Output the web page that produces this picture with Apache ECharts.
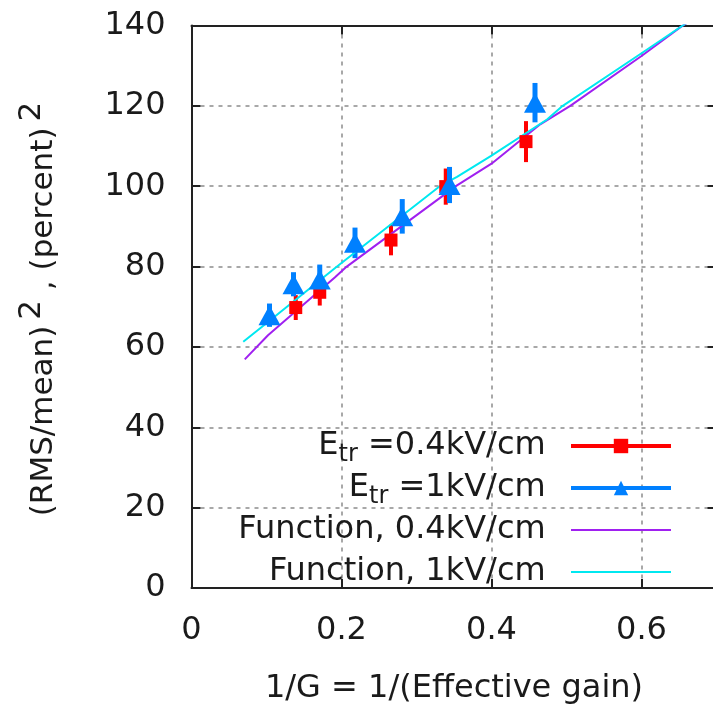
<!DOCTYPE html>
<html>
<head>
<meta charset="utf-8">
<script src="https://cdn.jsdelivr.net/npm/echarts@6/dist/echarts.min.js"></script>
<style>
  html, body { margin: 0; padding: 0; background: #ffffff; overflow: hidden; }
  /* the plot frame's right edge sits just beyond the visible window */
  #chart { width: 720px; height: 710px; }
</style>
</head>
<body>
<div id="chart"></div>
<script>
// Measured points, E_tr = 0.4 kV/cm
const redX   = [0.139, 0.171, 0.266, 0.339, 0.446];
const redY   = [69.8, 73.6, 86.6, 99.9, 111.1];
const redErr = [3.1, 3.3, 3.8, 4.5, 5.1];

// Measured points, E_tr = 1 kV/cm
const blueX   = [0.104, 0.136, 0.171, 0.218, 0.281, 0.344, 0.458];
const blueY   = [67.9, 75.6, 76.8, 85.9, 92.5, 100.3, 120.8];
const blueErr = [2.9, 3.0, 3.7, 3.8, 4.3, 4.5, 4.9];

// Fitted function, 0.4 kV/cm
const fn04X = [0.071, 0.102, 0.191, 0.207, 0.354, 0.400, 0.465, 0.505, 0.600, 0.652, 0.700];
const fn04Y = [56.9, 62.9, 77.3, 80.0, 100.2, 105.6, 115.4, 120.0, 132.4, 139.6, 145.3];

// Fitted function, 1 kV/cm
const fn1X = [0.069, 0.102, 0.194, 0.331, 0.354, 0.400, 0.474, 0.495, 0.600, 0.655, 0.700];
const fn1Y = [61.3, 66.2, 80.0, 100.0, 102.3, 107.6, 116.6, 120.0, 133.1, 140.0, 145.5];

// Axes
const xMin = 0, xMax = 0.7, xStep = 0.2;
const yMin = 0, yMax = 140, yStep = 20;

const seriesNames = ['E_tr =0.4kV/cm', 'E_tr =1kV/cm', 'Function, 0.4kV/cm', 'Function, 1kV/cm'];
const xTitle = '1/G = 1/(Effective gain)';

const FONT = 'DejaVu Sans';
const FS = 32;
const TXT = '#1a1a1a';
const RED = '#ff0000';
const BLUE = '#0080ff';
const PURPLE = '#a020f0';
const CYAN = '#00e8f0';

const zip = (xs, ys) => xs.map((x, i) => [x, ys[i]]);
const errRows = (xs, ys, es) => xs.map((x, i) => [x, ys[i] - es[i], ys[i] + es[i]]);

function errorBars(color, halfWidth) {
  return function (params, api) {
    const x = api.value(0);
    const lo = api.coord([x, api.value(1)]);
    const hi = api.coord([x, api.value(2)]);
    return {
      type: 'rect',
      shape: { x: lo[0] - halfWidth, y: hi[1], width: halfWidth * 2, height: lo[1] - hi[1] },
      style: { fill: color }
    };
  };
}

const axisLine = { show: true, onZero: false, lineStyle: { color: '#222', width: 2 } };
const axisTick = { show: true, inside: true, length: 9, lineStyle: { color: '#222', width: 2 } };
const gridLine = { show: true, lineStyle: { color: '#a8a8a8', width: 2, type: [4, 5] } };

const chart = echarts.init(document.getElementById('chart'), null, { renderer: 'canvas' });

chart.setOption({
  animation: false,
  backgroundColor: '#ffffff',
  textStyle: { fontFamily: FONT },
  grid: { left: 191.5, right: 3.5, top: 25.5, bottom: 116, containLabel: false },
  xAxis: [
    {
      type: 'value', position: 'bottom', min: xMin, max: xMax, interval: xStep,
      axisLine, axisTick, splitLine: gridLine,
      axisLabel: { show: true, margin: 27, fontSize: FS, color: TXT, fontFamily: FONT, showMaxLabel: false },
      name: xTitle, nameLocation: 'middle', nameGap: 85,
      nameTextStyle: { fontSize: FS, color: TXT, fontFamily: FONT }
    },
    {
      type: 'value', position: 'top', min: xMin, max: xMax, interval: xStep,
      axisLine, axisTick, splitLine: { show: false }, axisLabel: { show: false }
    }
  ],
  yAxis: [
    {
      type: 'value', position: 'left', min: yMin, max: yMax, interval: yStep,
      axisLine, axisTick, splitLine: gridLine,
      axisLabel: { show: true, margin: 26, fontSize: FS, color: TXT, fontFamily: FONT }
    },
    {
      type: 'value', position: 'right', min: yMin, max: yMax, interval: yStep,
      axisLine, axisTick, splitLine: { show: false }, axisLabel: { show: false }
    }
  ],
  graphic: [
    {
      type: 'text',
      x: 44, y: 309,
      rotation: Math.PI / 2,
      style: {
        text: '{m|(RMS/mean)}{p|2}{m| , (percent)}{p|2}',
        align: 'center', verticalAlign: 'middle',
        fill: TXT,
        rich: {
          m: { fontSize: 31, fontFamily: FONT, fill: TXT, lineHeight: 34 },
          p: { fontSize: 31, fontFamily: FONT, fill: TXT, lineHeight: 34, padding: [0, 0, 24, 6] }
        }
      }
    }
  ],
  legend: {
    orient: 'vertical', right: 47, top: 425, padding: 0,
    align: 'right', itemWidth: 100, itemHeight: 18, itemGap: 0,
    selectedMode: false,
    data: [
      { name: seriesNames[0], lineStyle: { width: 4, opacity: 1 } },
      { name: seriesNames[1], lineStyle: { width: 4, opacity: 1 } },
      { name: seriesNames[2], itemStyle: { opacity: 0 } },
      { name: seriesNames[3], itemStyle: { opacity: 0 } }
    ],
    formatter: function (name) {
      if (name.indexOf('E_tr') === 0) {
        return '{m|E}{s|tr}{m|' + name.slice(4) + '\u00a0\u00a0}';
      }
      return '{m|' + name + '\u00a0\u00a0}{s|\u200b}';
    },
    textStyle: {
      fontFamily: FONT, fontSize: FS, color: TXT, lineHeight: 40,
      rich: {
        m: { fontFamily: FONT, fontSize: FS, color: TXT, lineHeight: 40 },
        s: { fontFamily: FONT, fontSize: 24, color: TXT, lineHeight: 22, padding: [18, 0, 0, 0] }
      }
    }
  },
  series: [
    {
      name: 'err04', type: 'custom', silent: true, z: 2,
      data: errRows(redX, redY, redErr),
      encode: { x: 0, y: [1, 2] },
      renderItem: errorBars(RED, 2)
    },
    {
      name: seriesNames[0], type: 'line', z: 2,
      data: zip(redX, redY),
      symbol: 'rect', symbolSize: 13, showSymbol: true,
      lineStyle: { color: RED, width: 4, opacity: 0 },
      itemStyle: { color: RED }
    },
    {
      name: 'err1', type: 'custom', silent: true, z: 2,
      data: errRows(blueX, blueY, blueErr),
      encode: { x: 0, y: [1, 2] },
      renderItem: errorBars(BLUE, 2.5)
    },
    {
      name: seriesNames[1], type: 'line', z: 2,
      data: zip(blueX, blueY),
      symbol: 'triangle', symbolSize: [22, 20], showSymbol: true,
      lineStyle: { color: BLUE, width: 4, opacity: 0 },
      itemStyle: { color: BLUE }
    },
    {
      name: seriesNames[2], type: 'line', z: 2,
      data: zip(fn04X, fn04Y),
      symbol: 'none', clip: true,
      lineStyle: { color: PURPLE, width: 2 },
      itemStyle: { color: PURPLE }
    },
    {
      name: seriesNames[3], type: 'line', z: 2,
      data: zip(fn1X, fn1Y),
      symbol: 'none', clip: true,
      lineStyle: { color: CYAN, width: 2 },
      itemStyle: { color: CYAN }
    }
  ]
});
</script>
</body>
</html>
